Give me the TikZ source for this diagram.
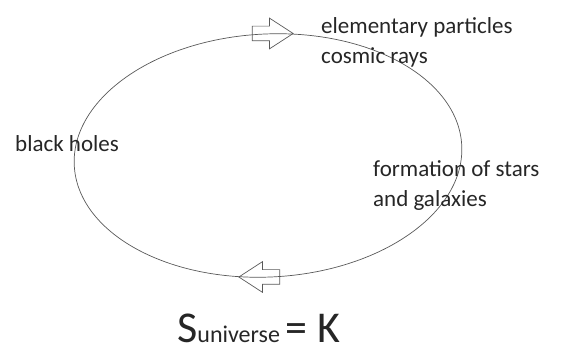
\documentclass[tikz,border=0pt]{standalone}
\usepackage{fontspec}
\setmainfont{Carlito}
\usetikzlibrary{shapes.arrows}
\begin{document}
\begin{tikzpicture}[x=1pt,y=1pt,
    lbl/.style={anchor=base west, inner sep=0pt, align=left, text=black!85,
        font=\fontsize{23}{30}\selectfont},
    flowarrow/.style={single arrow, draw=black!65, line width=0.7pt, inner sep=7pt,
        minimum height=41pt, single arrow head extend=8pt,
        single arrow tip angle=66}]
    \useasboundingbox (0,0) rectangle (561,347);

    % Ellipse parameters
    \def\cx{268}  \def\cy{191.5}
    \def\rx{194}  \def\ry{121.5}

    % The cycle
    \draw[black!65, line width=0.7pt, rotate around={3:(\cx,\cy)}]
        (\cx,\cy) ellipse [x radius=\rx, y radius=\ry];

    % Direction arrows on the cycle
    \node[flowarrow] (topArrow) at (267,313.5) {};
    \node[flowarrow, shape border rotate=180] (botArrow) at (265,70) {};

    % Stages of the cycle (anchor on the last line)
    \node[lbl] (particles) at (321,283) {elementary particles\\cosmic rays};
    \node[lbl] (holes) at (15,195) {black holes};
    \node[lbl] (stars) at (373,140) {formation of stars\\and galaxies};

    % Entropy of the universe
    \node[anchor=base west, inner sep=0pt, text=black!85] (entropy) at (177,4)
        {\fontsize{44}{44}\selectfont S\fontsize{24}{24}\selectfont universe
         \fontsize{44}{44}\selectfont= K};
\end{tikzpicture}
\end{document}
